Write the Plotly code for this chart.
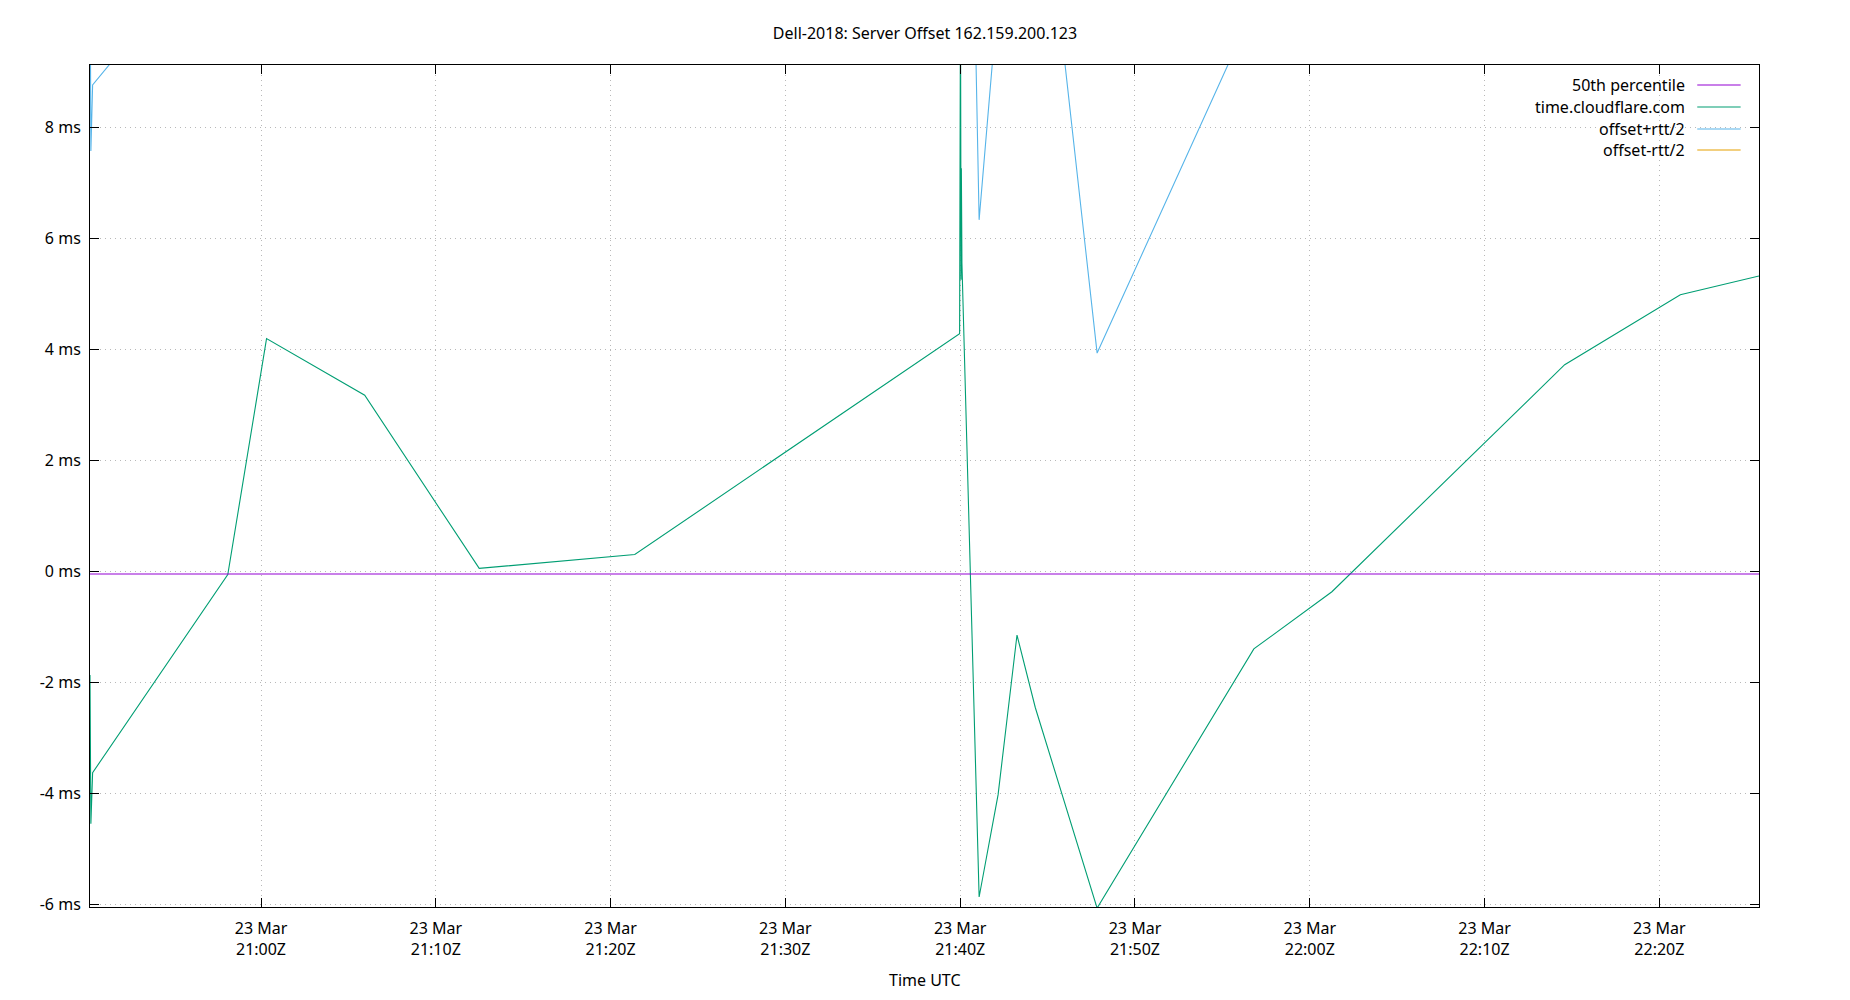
import plotly.graph_objects as go

# ---- data ----
times = [
    "2024-03-23 20:50:13", "2024-03-23 20:50:16", "2024-03-23 20:50:22",
    "2024-03-23 20:58:06", "2024-03-23 21:00:19", "2024-03-23 21:05:56",
    "2024-03-23 21:12:29", "2024-03-23 21:21:23", "2024-03-23 21:39:58",
    "2024-03-23 21:40:01", "2024-03-23 21:40:03", "2024-03-23 21:40:04",
    "2024-03-23 21:40:06", "2024-03-23 21:41:05", "2024-03-23 21:42:10",
    "2024-03-23 21:43:15", "2024-03-23 21:44:18", "2024-03-23 21:47:50",
    "2024-03-23 21:56:48", "2024-03-23 22:01:16", "2024-03-23 22:14:35",
    "2024-03-23 22:21:12", "2024-03-23 22:25:42",
]
offset_ms = [
    -1.87, -4.55, -3.63, -0.06, 4.19, 3.17, 0.05, 0.30, 4.28,
    10.5, 5.25, 7.26, 5.55, -5.87, -4.03, -1.15, -2.46, -6.07,
    -1.40, -0.37, 3.72, 4.98, 5.32,
]
offset_plus_rtt2 = [
    11.53, 7.57, 8.76, 11.72, 15.89, 14.97, 11.75, 12.20, 16.28,
    22.50, 18.25, 19.76, 22.05, 6.33, 10.37, 13.05, 13.94, 3.93,
    10.15, 11.43, 15.42, 16.78, 17.02,
]
offset_minus_rtt2 = [
    -15.27, -16.67, -16.02, -11.84, -7.51, -8.63, -11.65, -11.60, -7.72,
    -12.40, -11.75, -10.24, -10.95, -18.07, -18.43, -15.35, -18.86, -16.07,
    -12.95, -12.17, -7.98, -7.32, -7.08,
]
median_ms = -0.05

x_range = ["2024-03-23 20:50:13", "2024-03-23 22:25:42"]
y_range = [-6.05, 9.12]
y_ticks = [-6, -4, -2, 0, 2, 4, 6, 8]
y_tick_labels = ["-6 ms", "-4 ms", "-2 ms", "0 ms", "2 ms", "4 ms", "6 ms", "8 ms"]

series_names = ["50th percentile", "time.cloudflare.com", "offset+rtt/2", "offset-rtt/2"]
series_colors = ["#9400d3", "#009e73", "#56b4e9", "#e69f00"]

FONT = "Noto Sans"
LW = 1.1

fig = go.Figure()
fig.add_trace(go.Scatter(x=times, y=offset_plus_rtt2, mode="lines", name=series_names[2],
                         line=dict(color=series_colors[2], width=LW)))
fig.add_trace(go.Scatter(x=times, y=offset_minus_rtt2, mode="lines", name=series_names[3],
                         line=dict(color=series_colors[3], width=LW)))
fig.add_trace(go.Scatter(x=times, y=offset_ms, mode="lines", name=series_names[1],
                         line=dict(color=series_colors[1], width=LW)))
fig.add_trace(go.Scatter(x=x_range, y=[median_ms, median_ms], mode="lines", name=series_names[0],
                         line=dict(color=series_colors[0], width=LW)))

# gnuplot-style legend: right-aligned text followed by a line sample
leg_y = [0.9762, 0.9501, 0.9240, 0.8990]
for name, color, yy in zip(series_names, series_colors, leg_y):
    fig.add_annotation(xref="paper", yref="paper", x=0.9569, y=yy, text=name,
                       showarrow=False, xanchor="right", yanchor="middle",
                       font=dict(family=FONT, size=16, color="#000000"))
    fig.add_shape(type="line", xref="paper", yref="paper", x0=0.963, x1=0.989,
                  y0=yy, y1=yy, line=dict(color=color, width=LW))

fig.add_annotation(xref="paper", yref="paper", x=0.5, y=-0.0867, text="Time UTC",
                   showarrow=False, xanchor="center", yanchor="middle", borderpad=0,
                   font=dict(family=FONT, size=16, color="#000000"))

fig.update_layout(
    width=1834, height=984,
    margin=dict(l=82, r=83, t=57, b=85),
    paper_bgcolor="white", plot_bgcolor="white",
    showlegend=False,
    font=dict(family=FONT, size=16, color="#000000"),
    title=dict(text="Dell-2018: Server Offset 162.159.200.123", x=0.5, xanchor="center",
               y=0.9746, yanchor="middle", yref="container",
               font=dict(family=FONT, size=16, color="#000000")),
)
GRID = dict(showgrid=True, gridcolor="#b8b8b8", griddash="1px,4px", gridwidth=1)
fig.update_xaxes(
    type="date", range=x_range,
    tick0="2024-03-23 21:00:00", dtick=600000,
    tickformat="%d %b<br>%H:%MZ",
    ticks="inside", ticklen=9, tickcolor="#000000", tickwidth=1,
    ticklabelstandoff=7,
    showline=True, linecolor="#000000", linewidth=1, mirror="ticks",
    zeroline=False,
    tickfont=dict(family=FONT, size=16, color="#000000"),
    **GRID,
)
fig.update_yaxes(
    range=y_range, tickmode="array", tickvals=y_ticks, ticktext=y_tick_labels,
    ticks="inside", ticklen=9, tickcolor="#000000", tickwidth=1,
    ticklabelstandoff=5,
    showline=True, linecolor="#000000", linewidth=1, mirror="ticks",
    zeroline=False,
    tickfont=dict(family=FONT, size=16, color="#000000"),
    **GRID,
)

fig.write_html("out.html")
